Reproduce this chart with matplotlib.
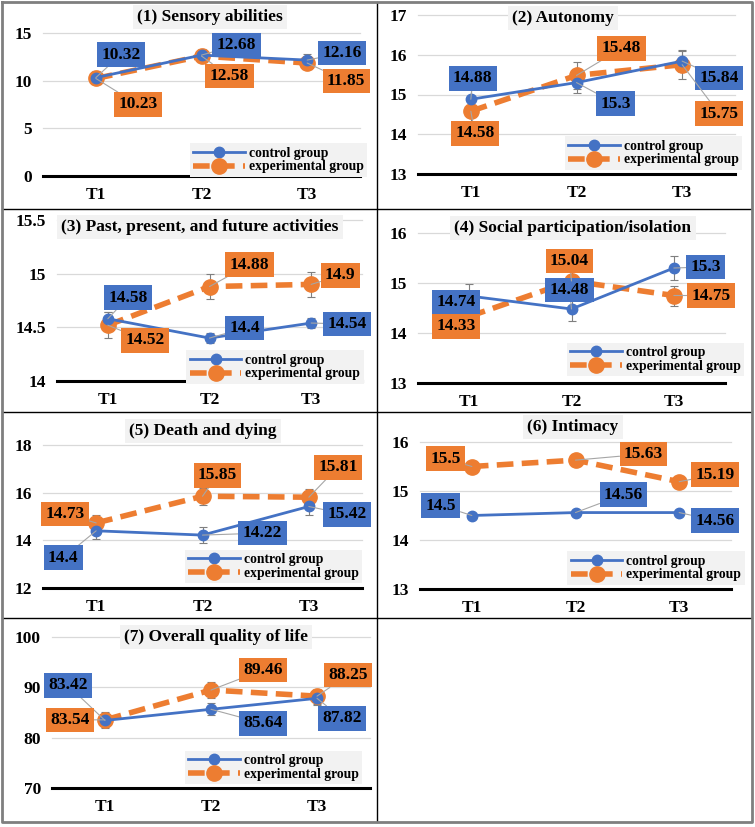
import matplotlib
matplotlib.use("Agg")
import matplotlib.pyplot as plt
from matplotlib.lines import Line2D
from matplotlib.ticker import FuncFormatter

# ---------------- data ----------------
categories = ["T1", "T2", "T3"]
titles = ["(1) Sensory abilities", "(2) Autonomy", "(3) Past, present, and future activities",
          "(4) Social participation/isolation", "(5) Death and dying", "(6) Intimacy",
          "(7) Overall quality of life"]
legend_labels = ["control group", "experimental group"]

sensory_control = [10.32, 12.68, 12.16]
sensory_exp = [10.23, 12.58, 11.85]
autonomy_control = [14.88, 15.3, 15.84]
autonomy_exp = [14.58, 15.48, 15.75]
activities_control = [14.58, 14.4, 14.54]
activities_exp = [14.52, 14.88, 14.9]
social_control = [14.74, 14.48, 15.3]
social_exp = [14.33, 15.04, 14.75]
death_control = [14.4, 14.22, 15.42]
death_exp = [14.73, 15.85, 15.81]
intimacy_control = [14.5, 14.56, 14.56]
intimacy_exp = [15.5, 15.63, 15.19]
overall_control = [83.42, 85.64, 87.82]
overall_exp = [83.54, 89.46, 88.25]

# estimated error bar half-widths
sensory_control_err = [0.65, 0.65, 0.65]
sensory_exp_err = [0.6, 0.6, 0.6]
autonomy_control_err = [0.27, 0.27, 0.27]
autonomy_exp_err = [0.35, 0.35, 0.35]
activities_control_err = [0.06, 0.05, 0.05]
activities_exp_err = [0.12, 0.12, 0.12]
social_control_err = [0.24, 0.24, 0.24]
social_exp_err = [0.2, 0.2, 0.2]
death_control_err = [0.35, 0.35, 0.35]
death_exp_err = [0.35, 0.35, 0.35]
intimacy_control_err = [0.05, 0.05, 0.05]
intimacy_exp_err = [0.11, 0.11, 0.11]
overall_control_err = [1.5, 1.2, 1.3]
overall_exp_err = [1.5, 1.6, 1.5]

y_ticks = [[0, 5, 10, 15], [13, 14, 15, 16, 17], [14, 14.5, 15, 15.5], [13, 14, 15, 16],
           [12, 14, 16, 18], [13, 14, 15, 16], [70, 80, 90, 100]]

# ---------------- layout (pixels) ----------------
W, H = 755, 827
BLUE = "#4472C4"
ORANGE = "#ED7D31"
FONT = "Liberation Serif"

panels = [
    dict(data=(sensory_control, sensory_exp, sensory_control_err, sensory_exp_err),
         box=(43, 33, 360, 176), title_c=(210, 17), leg=(190, 145, 367, 175),
         c_off=[(25, 23), (35, 10), (35, 7)], e_off=[(42, -26), (28, -20), (39, -18)]),
    dict(data=(autonomy_control, autonomy_exp, autonomy_control_err, autonomy_exp_err),
         box=(418, 15, 735, 174), title_c=(563, 18), leg=(571, 138, 736, 168),
         c_off=[(2, 21), (39, -21), (37, -17)], e_off=[(4, -22), (45, 27), (37, -49)]),
    dict(data=(activities_control, activities_exp, activities_control_err, activities_exp_err),
         box=(57, 220, 362, 381), title_c=(200, 227), leg=(180, 353, 370, 381),
         c_off=[(20, 21), (35, 10), (36, -1)], e_off=[(37, -15), (40, 22), (29, 9)]),
    dict(data=(social_control, social_exp, social_control_err, social_exp_err),
         box=(418, 233, 725, 383), title_c=(573, 228), leg=(570, 344, 741, 375),
         c_off=[(-13, -6), (-2, 19), (32, 1)], e_off=[(-13, -10), (-2, 20), (37, 0)]),
    dict(data=(death_control, death_exp, death_control_err, death_exp_err),
         box=(43, 445, 362, 588), title_c=(203, 431), leg=(177, 550, 370, 583),
         c_off=[(-33, -27), (60, 2), (38, -8)], e_off=[(-31, 9), (15, 21), (29, 30)]),
    dict(data=(intimacy_control, intimacy_exp, intimacy_control_err, intimacy_exp_err),
         box=(420, 442, 731, 589), title_c=(573, 427), leg=(571, 553, 741, 583),
         c_off=[(-31, 10), (48, 18), (36, -8)], e_off=[(-26, 8), (68, 6), (36, 7)]),
    dict(data=(overall_control, overall_exp, overall_control_err, overall_exp_err),
         box=(52, 637, 370, 788), title_c=(216, 637), leg=(177, 750, 370, 785),
         c_off=[(-37, 35), (52, -14), (25, -20)], e_off=[(-35, 0), (52, 20), (31, 21)]),
]

fig = plt.figure(figsize=(W / 100, H / 100), dpi=100)
fig.patch.set_facecolor("white")


def fx(x):
    return x / W


def fy(y):
    return 1 - y / H


fmt = FuncFormatter(lambda v, p: "{:g}".format(v))
xs = list(range(len(categories)))

for i, p in enumerate(panels):
    l, t, r, b = p["box"]
    ax = fig.add_axes([fx(l), fy(b), fx(r) - fx(l), (b - t) / H])
    ctrl, exp, cerr, eerr = p["data"]
    ticks = y_ticks[i]
    ax.set_xlim(-0.5, len(categories) - 0.5)
    ax.set_ylim(ticks[0], ticks[-1])
    ax.set_yticks(ticks)
    ax.yaxis.set_major_formatter(fmt)
    ax.set_xticks(xs)
    ax.set_xticklabels(categories)
    for s in ["top", "right", "left"]:
        ax.spines[s].set_visible(False)
    ax.spines["bottom"].set_linewidth(2.2)
    ax.spines["bottom"].set_color("black")
    ax.spines["bottom"].set_zorder(1)
    ax.tick_params(axis="both", length=0)
    ax.tick_params(axis="y", pad=8)
    ax.tick_params(axis="x", pad=8)
    for lab in ax.get_xticklabels() + ax.get_yticklabels():
        lab.set_fontfamily(FONT)
        lab.set_fontweight("bold")
        lab.set_fontsize(12.5)
    ax.yaxis.grid(True, color="#D9D9D9", lw=0.9)
    ax.set_axisbelow(True)
    for gl in ax.get_ygridlines():
        gl.set_clip_on(False)
    ax.patch.set_alpha(0)

    ax.errorbar(xs, ctrl, yerr=cerr, fmt="none", ecolor="#7F7F7F", elinewidth=0.8,
                capsize=3, capthick=0.8, zorder=2)
    ax.errorbar(xs, exp, yerr=eerr, fmt="none", ecolor="#7F7F7F", elinewidth=0.8,
                capsize=3, capthick=0.8, zorder=2)
    hc, = ax.plot(xs, ctrl, "-", color=BLUE, lw=2, marker="o", ms=7.5, zorder=4,
                  label=legend_labels[0], clip_on=False)
    he, = ax.plot(xs, exp, color=ORANGE, lw=4, ls=(0, (3.0, 1.5)), marker="o", ms=11,
                  zorder=3, label=legend_labels[1], clip_on=False)

    for series, offs, col in ((ctrl, p["c_off"], BLUE), (exp, p["e_off"], ORANGE)):
        for x, v, off in zip(xs, series, offs):
            ax.annotate("{:g}".format(v), xy=(x, v), xytext=off, textcoords="offset pixels",
                        ha="center", va="center", fontsize=12.5, fontweight="bold",
                        family=FONT, color="black", annotation_clip=False, zorder=6,
                        bbox=dict(boxstyle="square,pad=0.25", fc=col, ec="none"),
                        arrowprops=dict(arrowstyle="-", color="#A6A6A6", lw=0.8,
                                        shrinkA=0, shrinkB=0))

    cx, cy = p["title_c"]
    fig.text(fx(cx), fy(cy), titles[i], ha="center", va="center", fontsize=12.5,
             fontweight="bold", family=FONT,
             bbox=dict(boxstyle="square,pad=0.25", fc="#F2F2F2", ec="none"), zorder=5)

    ll, lt, lr, lb = p["leg"]
    leg = ax.legend(handles=[hc, he], loc="center",
                    bbox_to_anchor=((fx(ll) + fx(lr)) / 2, (fy(lt) + fy(lb)) / 2),
                    bbox_transform=fig.transFigure, numpoints=1, handlelength=3.8,
                    handletextpad=0.3, labelspacing=0.05, borderpad=0.25,
                    frameon=True, fancybox=False, framealpha=1,
                    prop=dict(family=FONT, weight="bold", size=9.8))
    leg.get_frame().set_facecolor("#F2F2F2")
    leg.get_frame().set_edgecolor("none")
    leg.set_zorder(7)

# ---------------- table lines ----------------
for yy in (209, 412, 618):
    fig.add_artist(Line2D([fx(2), fx(752)], [fy(yy), fy(yy)], color="black", lw=1.0))
fig.add_artist(Line2D([fx(377), fx(377)], [fy(2), fy(822)], color="black", lw=1.0))
fig.add_artist(Line2D([fx(2), fx(752), fx(752), fx(2), fx(2)],
                      [fy(2), fy(2), fy(822), fy(822), fy(2)], color="#7F7F7F", lw=2.0))

fig.savefig("out.png", dpi=100)
